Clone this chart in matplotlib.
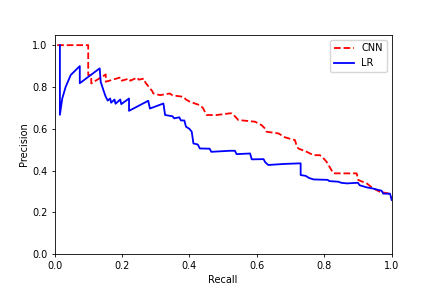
import matplotlib
matplotlib.use("Agg")
import matplotlib.pyplot as plt

# CNN precision-recall curve vertices
cnn_recall = [0.008, 0.100, 0.100, 0.109, 0.109, 0.152, 0.152, 0.196, 0.200, 0.220, 0.225,
              0.245, 0.250, 0.265, 0.270, 0.280, 0.290, 0.293, 0.313, 0.342, 0.350, 0.382,
              0.390, 0.402, 0.431, 0.440, 0.451, 0.481, 0.520, 0.525, 0.535, 0.545, 0.595,
              0.605, 0.614, 0.625, 0.629, 0.664, 0.684, 0.713, 0.718, 0.723, 0.748, 0.768,
              0.787, 0.800, 0.807, 0.815, 0.827, 0.896, 0.901, 0.926, 0.945, 0.965, 0.990, 1.000]
cnn_precision = [1.000, 1.000, 0.857, 0.857, 0.817, 0.860, 0.825, 0.846, 0.830, 0.840, 0.830,
                 0.845, 0.835, 0.840, 0.820, 0.800, 0.780, 0.769, 0.761, 0.769, 0.760, 0.753,
                 0.740, 0.729, 0.713, 0.700, 0.666, 0.666, 0.674, 0.674, 0.660, 0.642, 0.634,
                 0.625, 0.618, 0.600, 0.586, 0.578, 0.559, 0.546, 0.520, 0.506, 0.490, 0.474,
                 0.474, 0.455, 0.442, 0.420, 0.387, 0.387, 0.355, 0.339, 0.315, 0.299, 0.291, 0.270]

# LR precision-recall curve vertices
lr_recall = [0.016, 0.016, 0.023, 0.033, 0.048, 0.075, 0.075, 0.134, 0.137, 0.145, 0.152,
             0.158, 0.165, 0.168, 0.178, 0.181, 0.195, 0.198, 0.221, 0.221, 0.278, 0.283,
             0.323, 0.328, 0.350, 0.355, 0.370, 0.375, 0.385, 0.390, 0.400, 0.407, 0.412,
             0.425, 0.431, 0.460, 0.465, 0.520, 0.535, 0.540, 0.580, 0.585, 0.620, 0.625,
             0.634, 0.680, 0.730, 0.730, 0.745, 0.755, 0.768, 0.810, 0.815, 0.842, 0.850,
             0.867, 0.900, 0.905, 0.926, 0.940, 0.970, 0.975, 0.995, 1.000]
lr_precision = [1.000, 0.667, 0.745, 0.800, 0.857, 0.900, 0.818, 0.889, 0.825, 0.785, 0.753,
                0.735, 0.745, 0.725, 0.740, 0.720, 0.740, 0.718, 0.745, 0.686, 0.734, 0.697,
                0.721, 0.666, 0.660, 0.650, 0.655, 0.640, 0.640, 0.610, 0.600, 0.586, 0.530,
                0.525, 0.506, 0.505, 0.490, 0.495, 0.495, 0.479, 0.482, 0.454, 0.455, 0.440,
                0.427, 0.432, 0.435, 0.379, 0.375, 0.365, 0.358, 0.356, 0.350, 0.347, 0.342,
                0.339, 0.342, 0.330, 0.320, 0.316, 0.304, 0.290, 0.290, 0.260]

plt.rcParams['font.family'] = ['DejaVu Sans']
plt.rcParams['font.size'] = 7

fig = plt.figure(figsize=(4.36, 2.91), dpi=100)
ax = fig.add_axes([54.5 / 436, 1 - 254.3 / 291, 337.2 / 436, 219.6 / 291])

ax.plot(cnn_recall, cnn_precision, color='red', linestyle='--', linewidth=1.3, label='CNN')
ax.plot(lr_recall, lr_precision, color='blue', linestyle='-', linewidth=1.3, label='LR')

ax.set_xlim(0.0, 1.0)
ax.set_ylim(0.0, 1.05)
ax.set_xticks([0.0, 0.2, 0.4, 0.6, 0.8, 1.0])
ax.set_yticks([0.0, 0.2, 0.4, 0.6, 0.8, 1.0])
ax.set_xlabel('Recall', labelpad=2.5)
ax.set_ylabel('Precision', labelpad=2.5)
ax.tick_params(length=2.5, width=0.6, pad=2.5, labelsize=7)
for s in ax.spines.values():
    s.set_linewidth(0.6)
ax.legend(loc='upper right', fontsize=7, handlelength=2.0)

fig.savefig('out.png', dpi=100)
